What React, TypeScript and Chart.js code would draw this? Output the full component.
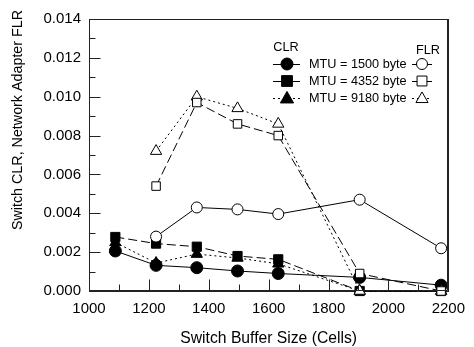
import React, { useEffect, useRef } from "react";
import { Chart, registerables } from "chart.js";

Chart.register(...registerables);

const bufferSizes = [1088, 1224, 1360, 1496, 1632, 1904, 2176];
const clr1500 = [0.00206, 0.00132, 0.0012, 0.00103, 0.0009, 0.0007, 0.0003];
const clr4352 = [0.00278, 0.00244, 0.00228, 0.0018, 0.00163, 0.0, 0.0];
const clr9180 = [0.0025, 0.00144, 0.0019, 0.0017, 0.0014, 0.0, 0.0];
const flr1500 = [null, 0.0028, 0.0043, 0.0042, 0.00396, 0.0047, 0.0022];
const flr4352 = [null, 0.0054, 0.0097, 0.0086, 0.008, 0.0009, 0.0];
const flr9180 = [null, 0.0072, 0.0100, 0.0094, 0.0086, 0.0, 0.0];
const legendLabels = ["MTU = 1500 byte", "MTU = 4352 byte", "MTU = 9180 byte"];
const xTitle = "Switch Buffer Size (Cells)";
const yTitle = "Switch CLR, Network Adapter FLR";

const FONT = "'Liberation Sans', Arial, sans-serif";
const INK = "#000";
const FRAME = "#222";

function pts(vals: (number | null)[]) {
  const out: { x: number; y: number }[] = [];
  vals.forEach((v, i) => {
    if (v !== null) out.push({ x: bufferSizes[i], y: v });
  });
  return out;
}

const dashSolid: number[] = [];
const dashLong = [9, 4];
const dashDot = [2, 3];

function ds(vals: (number | null)[], style: string, filled: boolean, dash: number[], radius: number) {
  return {
    data: pts(vals),
    xAxisID: "x",
    yAxisID: "y",
    borderColor: INK,
    borderWidth: 1,
    borderDash: dash,
    pointStyle: style,
    pointRadius: radius,
    pointBorderWidth: 1,
    pointBorderColor: INK,
    pointBackgroundColor: filled ? INK : "#fff",
    backgroundColor: filled ? INK : "#fff",
    fill: false,
    tension: 0,
    clip: false,
  };
}

function drawMarker(ctx: CanvasRenderingContext2D, style: string, x: number, y: number, r: number, filled: boolean) {
  ctx.beginPath();
  if (style === "circle") {
    ctx.arc(x, y, r, 0, Math.PI * 2);
  } else if (style === "rect") {
    const s = r * 0.9;
    ctx.rect(x - s, y - s, 2 * s, 2 * s);
  } else {
    const h = r * 1.1;
    ctx.moveTo(x, y - h);
    ctx.lineTo(x + h, y + h * 0.75);
    ctx.lineTo(x - h, y + h * 0.75);
    ctx.closePath();
  }
  ctx.fillStyle = filled ? INK : "#fff";
  ctx.fill();
  ctx.strokeStyle = INK;
  ctx.lineWidth = 1;
  ctx.stroke();
}

const framePlugin = {
  id: "frameTicks",
  afterDraw(chart: any) {
    const { ctx, chartArea: a, scales } = chart;
    const xs = scales.x;
    const ys = scales.y;
    ctx.save();
    ctx.strokeStyle = FRAME;
    ctx.lineWidth = 1;
    ctx.setLineDash([]);
    const L = Math.round(a.left) + 0.5;
    const R = Math.round(a.right) - 0.5;
    const T = Math.round(a.top) + 0.5;
    const B = Math.round(a.bottom) - 0.5;
    ctx.beginPath();
    ctx.moveTo(L, T);
    ctx.lineTo(R, T);
    ctx.lineTo(R, B);
    ctx.lineTo(L, B);
    ctx.lineTo(L, T);
    ctx.stroke();
    ctx.beginPath();
    for (let v = 1000; v <= 2200; v += 100) {
      const px = Math.round(xs.getPixelForValue(v)) + 0.5;
      const len = v % 200 === 0 ? 11 : 6;
      ctx.moveTo(px, B);
      ctx.lineTo(px, B - len);
    }
    for (let i = 0; i <= 14; i++) {
      const v = i * 0.001;
      const py = Math.round(ys.getPixelForValue(v)) + 0.5;
      const len = i % 2 === 0 ? 11 : 6;
      ctx.moveTo(L, py);
      ctx.lineTo(L + len, py);
    }
    ctx.stroke();

    // axis titles
    ctx.fillStyle = INK;
    ctx.textBaseline = "middle";
    ctx.textAlign = "center";
    ctx.font = `15.7px ${FONT}`;
    ctx.fillText(xTitle, (a.left + a.right) / 2, 339);
    ctx.save();
    ctx.translate(18, 120);
    ctx.rotate(-Math.PI / 2);
    ctx.font = `14.3px ${FONT}`;
    ctx.fillText(yTitle, 0, 0);
    ctx.restore();

    // legend
    ctx.fillStyle = INK;
    ctx.font = `12.7px ${FONT}`;
    ctx.textBaseline = "middle";
    ctx.textAlign = "center";
    ctx.fillText("CLR", 286, 47);
    ctx.fillText("FLR", 428, 50);
    ctx.textAlign = "left";
    const rows = [64, 81, 98];
    const styles = ["circle", "rect", "triangle"];
    rows.forEach((y, i) => {
      ctx.strokeStyle = INK;
      ctx.lineWidth = 1;
      ctx.setLineDash(i === 2 ? dashDot : []);
      ctx.beginPath();
      ctx.moveTo(273, y + 0.5);
      ctx.lineTo(300, y + 0.5);
      ctx.moveTo(412, y + 0.5);
      ctx.lineTo(432, y + 0.5);
      ctx.stroke();
      ctx.setLineDash([]);
      drawMarker(ctx, styles[i], 287, y, 6, true);
      drawMarker(ctx, styles[i], 422, y, 5.5, false);
      ctx.fillStyle = INK;
      ctx.fillText(legendLabels[i], 309, y);
    });
    ctx.restore();
  },
};

const hiddenAxis = (position: string, size: "height" | "width") => ({
  type: "linear",
  position,
  min: 0,
  max: 1,
  grid: { display: false, drawTicks: false },
  border: { display: true, color: FRAME, width: 1 },
  ticks: { display: false },
  title: { display: false },
  afterFit: (s: any) => { s[size] = 0; },
});

export default function App() {
  const ref = useRef<HTMLCanvasElement>(null);
  useEffect(() => {
    document.body.style.margin = "0";
    const chart = new Chart(ref.current as HTMLCanvasElement, {
      type: "line",
      data: {
        datasets: [
          ds(flr1500, "circle", false, dashSolid, 5.5),
          ds(flr4352, "rect", false, dashLong, 6),
          ds(flr9180, "triangle", false, dashDot, 6.5),
          ds(clr9180, "triangle", true, dashDot, 6.5),
          ds(clr4352, "rect", true, dashLong, 6.5),
          ds(clr1500, "circle", true, dashSolid, 6),
        ] as any,
      },
      options: {
        animation: false,
        responsive: false,
        devicePixelRatio: 1,
        layout: { padding: { top: 19, right: 22, left: 0, bottom: 0 } },
        plugins: { legend: { display: false }, tooltip: { enabled: false } },
        scales: {
          x: {
            type: "linear",
            position: "bottom",
            min: 1000,
            max: 2200,
            grid: { display: false, drawTicks: false },
            border: { display: true, color: FRAME, width: 1 },
            ticks: { stepSize: 200, padding: 9, color: INK, font: { family: FONT, size: 15 }, maxRotation: 0, callback: (v: any) => String(v) },
            title: { display: false },
            afterFit: (s: any) => { s.height = 56; },
          },
          y: {
            type: "linear",
            position: "left",
            min: 0,
            max: 0.014,
            grid: { display: false, drawTicks: false },
            border: { display: true, color: FRAME, width: 1 },
            ticks: { stepSize: 0.002, padding: 8, color: INK, font: { family: FONT, size: 15 }, callback: (v: any) => Number(v).toFixed(3) },
            title: { display: false },
            afterFit: (s: any) => { s.width = 89; },
          },
          xTop: hiddenAxis("top", "height"),
          yRight: hiddenAxis("right", "width"),
        },
      } as any,
      plugins: [framePlugin],
    });
    return () => chart.destroy();
  }, []);
  return (
    <div style={{ width: 474, height: 347 }}>
      <canvas ref={ref} width={474} height={347} style={{ display: "block" }} />
    </div>
  );
}
